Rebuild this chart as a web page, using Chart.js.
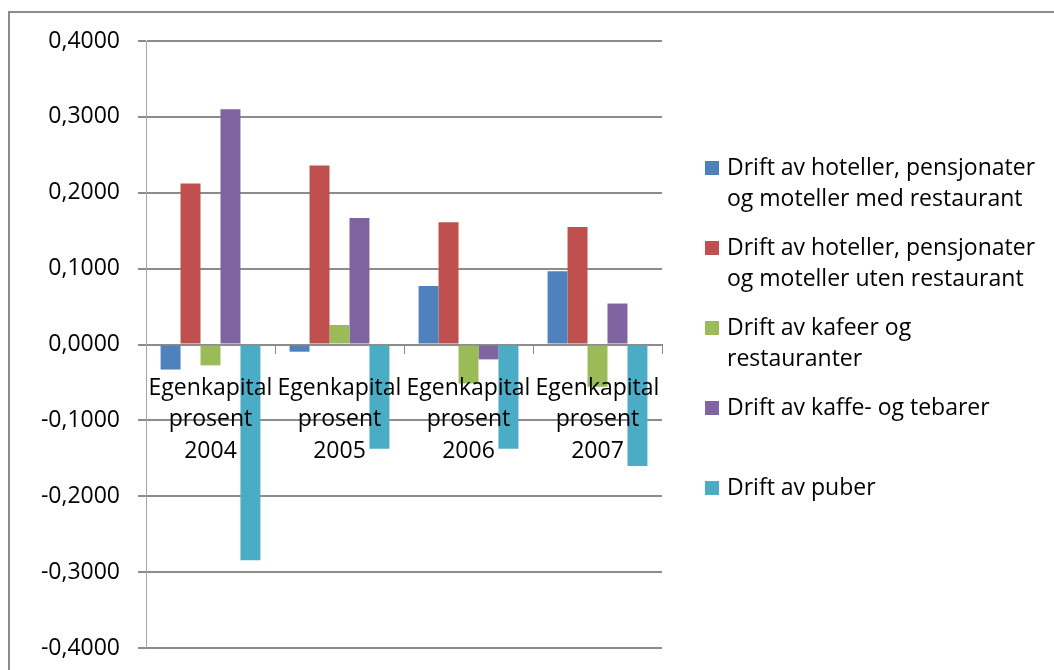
<!DOCTYPE html>
<html>
<head>
<meta charset="utf-8">
<script src="https://cdn.jsdelivr.net/npm/chart.js@4.4.1/dist/chart.umd.min.js"></script>
<style>
  html, body { margin: 0; padding: 0; background: #fff; }
  #wrap { position: relative; width: 1054px; height: 670px; overflow: hidden; }
  #frame { position: absolute; left: 8px; top: 11px; width: 1200px; height: 800px;
           border-left: 2px solid #8c8c8c; border-top: 2px solid #8c8c8c; }
  #chart { position: absolute; left: 0; top: 0; }
  #legend { position: absolute; left: 705px; top: 151px; font-family: 'Open Sans', sans-serif;
            font-size: 23px; line-height: 31px; color: #000; }
  .item { position: relative; height: 80px; padding-left: 22px; white-space: pre-line; }
  .box { position: absolute; left: 0; top: 10px; width: 14px; height: 14px; }
</style>
</head>
<body>
<div id="wrap">
  <div id="frame"></div>
  <canvas id="chart" width="1054" height="670"></canvas>
  <div id="legend"></div>
</div>
<script>
// Categories (years) shown under the zero line
const categoryTitle = ['Egenkapital', 'prosent'];
const years = ['2004', '2005', '2006', '2007'];

// Series names (line breaks as laid out in the legend)
const seriesNames = [
  'Drift av hoteller, pensjonater\nog moteller med restaurant',
  'Drift av hoteller, pensjonater\nog moteller uten restaurant',
  'Drift av kafeer og\nrestauranter',
  'Drift av kaffe- og tebarer',
  'Drift av puber'
];
const seriesColors = ['#4F81BD', '#C0504D', '#9BBB59', '#8064A2', '#4BACC6'];

// Equity ratio per industry and year
const hotellerMedRestaurant  = [-0.0330, -0.0095,  0.0770,  0.0966];
const hotellerUtenRestaurant = [ 0.2121,  0.2360,  0.1610,  0.1550];
const kafeerOgRestauranter   = [-0.0275,  0.0257, -0.0513, -0.0557];
const kaffeOgTebarer         = [ 0.3100,  0.1666, -0.0196,  0.0540];
const puber                  = [-0.2845, -0.1375, -0.1375, -0.1600];

// Value axis tick labels, bottom to top
const yTickLabels = ['-0,4000', '-0,3000', '-0,2000', '-0,1000', '0,0000',
                     '0,1000', '0,2000', '0,3000', '0,4000'];

const seriesValues = [hotellerMedRestaurant, hotellerUtenRestaurant,
                      kafeerOgRestauranter, kaffeOgTebarer, puber];

function draw() {
  const ctx = document.getElementById('chart').getContext('2d');
  const gridColor = '#8c8c8c';

  const chart = new Chart(ctx, {
    type: 'bar',
    data: {
      labels: years.map(y => categoryTitle.concat([y])),
      datasets: seriesValues.map((vals, i) => ({
        label: seriesNames[i],
        data: vals,
        backgroundColor: seriesColors[i],
        borderWidth: 0
      }))
    },
    options: {
      responsive: false,
      animation: false,
      layout: { padding: { left: 0, top: 41, right: 392, bottom: 22 } },
      plugins: { legend: { display: false }, tooltip: { enabled: false } },
      datasets: { bar: { categoryPercentage: 0.774, barPercentage: 1.0 } },
      scales: {
        x: {
          position: { y: 0 },
          offset: true,
          grid: { offset: true, drawOnChartArea: false, drawTicks: true,
                  tickLength: 8, color: gridColor, lineWidth: 1 },
          border: { display: true, color: gridColor, width: 2 },
          ticks: {
            z: 1,
            color: '#000',
            font: { family: 'Open Sans', size: 23, lineHeight: 1.37 },
            padding: 20,
            maxRotation: 0,
            autoSkip: false
          }
        },
        y: {
          min: -0.4,
          max: 0.4,
          afterFit(scale) {
            scale.width = 146;
            scale.paddingTop = 0;
            scale.paddingBottom = 0;
          },
          ticks: {
            stepSize: 0.1,
            color: '#000',
            padding: 18,
            font: { family: 'Open Sans', size: 23 },
            callback: (v, i) => yTickLabels[i]
          },
          grid: { color: gridColor, lineWidth: 2, tickLength: 8 },
          border: { display: true, color: '#a6a6a6', width: 1 }
        }
      }
    }
  });

  // Legend built from the chart's datasets
  const legend = document.getElementById('legend');
  chart.data.datasets.forEach(ds => {
    const item = document.createElement('div');
    item.className = 'item';
    const box = document.createElement('span');
    box.className = 'box';
    box.style.background = ds.backgroundColor;
    item.appendChild(box);
    item.appendChild(document.createTextNode(ds.label));
    legend.appendChild(item);
  });
}

document.fonts.load('23px "Open Sans"').then(draw, draw);
</script>
</body>
</html>
